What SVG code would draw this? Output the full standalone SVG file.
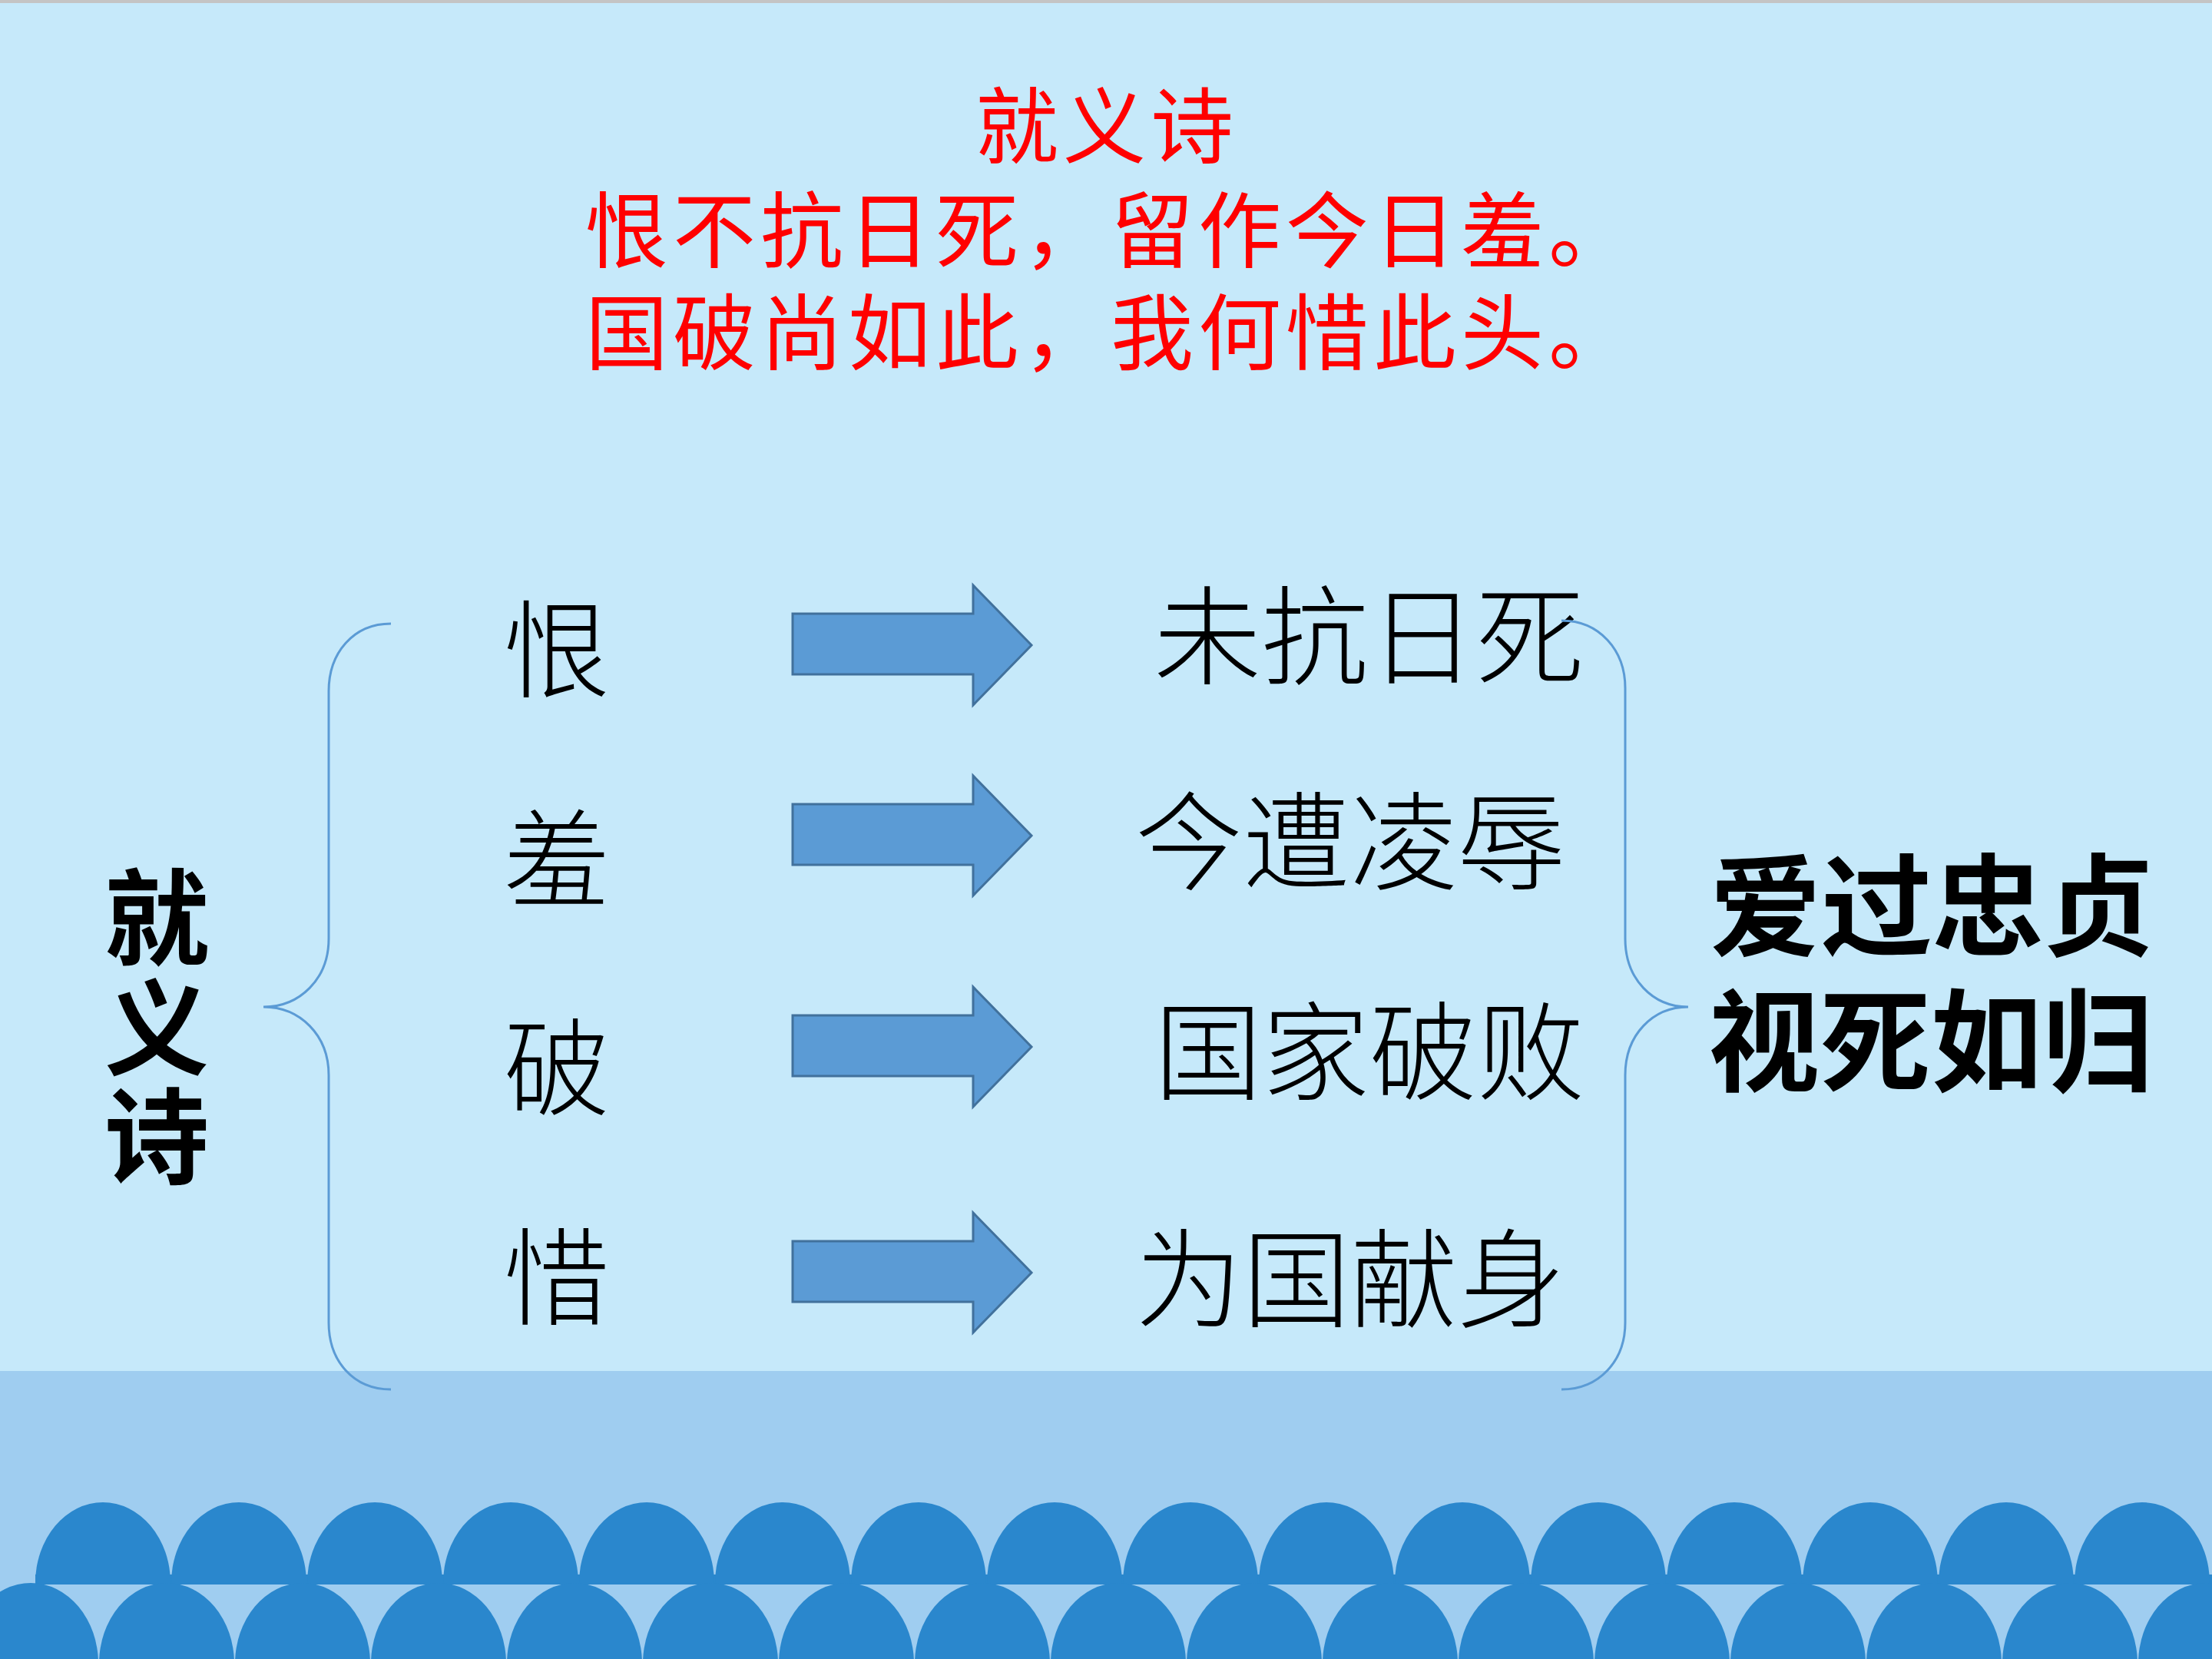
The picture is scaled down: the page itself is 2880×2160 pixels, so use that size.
<svg xmlns="http://www.w3.org/2000/svg" width="2880" height="2160" viewBox="0 0 2880 2160">
<defs>
<style>
.red{font-family:"Noto Sans CJK SC",sans-serif;font-size:108px;fill:#FF0000;letter-spacing:6px;}
.song{font-family:"Noto Sans CJK SC",sans-serif;font-weight:300;fill:#000;}
.bold{font-family:"Noto Sans CJK SC",sans-serif;font-weight:700;fill:#000;}
.arrow{fill:#5B9BD5;stroke:#41719C;stroke-width:3;}
.brace{fill:none;stroke:#5B9BD5;stroke-width:3;}
.wave{fill:#2A87CD;}
</style>
<polygon id="arr" points="0,-41 235,-41 235,-78 311,0 235,78 235,38 0,38"/>
<path id="arch" d="M-88,0 A88 105 0 0 1 88,0 Z"/>
</defs>
<rect width="2880" height="2160" fill="#C6E9FA"/>
<rect width="2880" height="4" fill="#C4C4C4"/>
<rect y="1785" width="2880" height="375" fill="#9FCDF0"/>
<g id="waves" class="wave">
<rect x="46" y="2050" width="2834" height="13"/>
<use href="#arch" x="134" y="2061"/><use href="#arch" x="311" y="2061"/><use href="#arch" x="488" y="2061"/><use href="#arch" x="665" y="2061"/><use href="#arch" x="842" y="2061"/><use href="#arch" x="1019" y="2061"/><use href="#arch" x="1196" y="2061"/><use href="#arch" x="1373" y="2061"/><use href="#arch" x="1550" y="2061"/><use href="#arch" x="1727" y="2061"/><use href="#arch" x="1904" y="2061"/><use href="#arch" x="2081" y="2061"/><use href="#arch" x="2258" y="2061"/><use href="#arch" x="2435" y="2061"/><use href="#arch" x="2612" y="2061"/><use href="#arch" x="2789" y="2061"/>
<use href="#arch" x="40" y="2166"/><use href="#arch" x="217" y="2166"/><use href="#arch" x="394" y="2166"/><use href="#arch" x="571" y="2166"/><use href="#arch" x="748" y="2166"/><use href="#arch" x="925" y="2166"/><use href="#arch" x="1102" y="2166"/><use href="#arch" x="1279" y="2166"/><use href="#arch" x="1456" y="2166"/><use href="#arch" x="1633" y="2166"/><use href="#arch" x="1810" y="2166"/><use href="#arch" x="1987" y="2166"/><use href="#arch" x="2164" y="2166"/><use href="#arch" x="2341" y="2166"/><use href="#arch" x="2518" y="2166"/><use href="#arch" x="2695" y="2166"/><use href="#arch" x="2872" y="2166"/>
</g>
<g id="title">
<text class="red" x="1441" y="204" text-anchor="middle">就义诗</text>
<text class="red" x="762" y="340">恨不抗日死，留作今日羞。</text>
<text class="red" x="762" y="473">国破尚如此，我何惜此头。</text>
</g>
<g id="node-left-label"><text class="bold" font-size="136" x="204" y="1246" text-anchor="middle">就</text><text class="bold" font-size="136" x="204" y="1389" text-anchor="middle">义</text><text class="bold" font-size="136" x="204" y="1531" text-anchor="middle">诗</text></g>
<g id="node-hen"><text class="song" font-size="138" x="725" y="897" text-anchor="middle">恨</text></g>
<g id="node-xiu"><text class="song" font-size="138" x="725" y="1169" text-anchor="middle">羞</text></g>
<g id="node-po"><text class="song" font-size="138" x="725" y="1441" text-anchor="middle">破</text></g>
<g id="node-xi"><text class="song" font-size="138" x="725" y="1714" text-anchor="middle">惜</text></g>
<g id="node-r1"><text class="song" font-size="140" x="1782" y="880" text-anchor="middle">未抗日死</text></g>
<g id="node-r2"><text class="song" font-size="140" x="1758" y="1148" text-anchor="middle">今遭凌辱</text></g>
<g id="node-r3"><text class="song" font-size="140" x="1783" y="1421" text-anchor="middle">国家破败</text></g>
<g id="node-r4"><text class="song" font-size="140" x="1758" y="1717" text-anchor="middle">为国献身</text></g>
<g id="node-conclusion">
<text class="bold" font-size="145" x="2516" y="1234" text-anchor="middle">爱过忠贞</text>
<text class="bold" font-size="145" x="2514" y="1410" text-anchor="middle">视死如归</text>
</g>
<g id="connectors">
<use href="#arr" class="arrow" x="1032" y="840"/>
<use href="#arr" class="arrow" x="1032" y="1088"/>
<use href="#arr" class="arrow" x="1032" y="1363"/>
<use href="#arr" class="arrow" x="1032" y="1657"/>
<path class="brace" d="M509,812 C460,812 428,850 428,900 L428,1222 C428,1275 390,1311 343,1311 C390,1311 428,1347 428,1400 L428,1722 C428,1772 460,1809 509,1809"/>
<path class="brace" d="M2033,808 C2082,808 2116,846 2116,896 L2116,1222 C2116,1275 2152,1311 2198,1311 C2152,1311 2116,1347 2116,1400 L2116,1722 C2116,1772 2082,1809 2033,1809"/>
</g>
</svg>
